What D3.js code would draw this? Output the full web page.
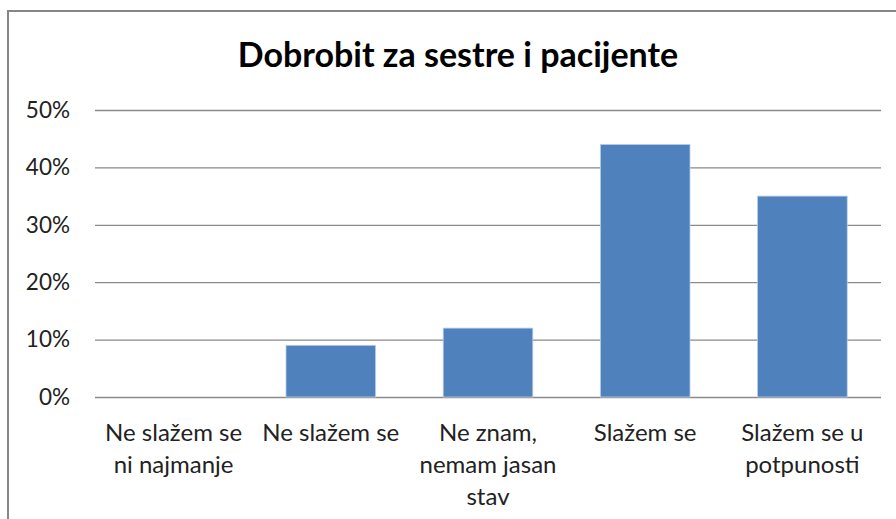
<!DOCTYPE html>
<html>
<head>
<meta charset="utf-8">
<script src="https://cdn.jsdelivr.net/npm/d3@7"></script>
<style>
  body { margin: 0; background: #fff; }
  svg text { font-family: "Lato", "Open Sans", sans-serif; }
</style>
</head>
<body>
<div id="chart"></div>
<script>
// chart data
const title = "Dobrobit za sestre i pacijente";
const categories = ["Ne slažem se ni najmanje", "Ne slažem se", "Ne znam, nemam jasan stav", "Slažem se", "Slažem se u potpunosti"];
const values = [0, 0.09, 0.12, 0.44, 0.35];
const yTicks = [0, 0.1, 0.2, 0.3, 0.4, 0.5];

const width = 896, height = 519;
const plot = { left: 95, right: 881, top: 110, bottom: 397 };

const svg = d3.select("#chart").append("svg")
  .attr("width", width)
  .attr("height", height);

// outer chart frame (runs past the right and bottom edge of the picture)
svg.append("rect")
  .attr("x", 8).attr("y", 11)
  .attr("width", 920).attr("height", 560)
  .attr("fill", "#fff")
  .attr("stroke", "#868686")
  .attr("stroke-width", 2);

// title
svg.append("text")
  .attr("x", 458)
  .attr("y", 67)
  .attr("text-anchor", "middle")
  .style("font-size", "34px")
  .style("font-weight", "700")
  .attr("fill", "#000")
  .text(title);

const x = d3.scaleBand()
  .domain(categories)
  .range([plot.left, plot.right])
  .paddingInner(0.43)
  .paddingOuter(0.215);

const y = d3.scaleLinear()
  .domain([0, 0.5])
  .range([plot.bottom, plot.top]);

// y axis with gridlines
const yAxis = svg.append("g")
  .attr("transform", `translate(${plot.left},0)`)
  .call(d3.axisLeft(y)
    .tickValues(yTicks)
    .tickFormat(d3.format(".0%"))
    .tickSize(-(plot.right - plot.left))
    .tickPadding(25));

yAxis.select(".domain").remove();
yAxis.selectAll(".tick line")
  .attr("stroke", "#8a8a8a")
  .attr("stroke-width", 1.3);
yAxis.selectAll(".tick text")
  .style("font-size", "22.5px")
  .attr("fill", "#222");

// bars
svg.append("g")
  .selectAll("rect")
  .data(values)
  .join("rect")
  .attr("x", (d, i) => x(categories[i]))
  .attr("y", d => y(d))
  .attr("width", x.bandwidth())
  .attr("height", d => y(0) - y(d))
  .attr("fill", "#4f81bd")
  .attr("stroke", "#b9cde5")
  .attr("stroke-width", d => d > 0 ? 0.8 : 0);

// x axis labels
const xAxis = svg.append("g")
  .attr("transform", `translate(0,${plot.bottom})`)
  .call(d3.axisBottom(x).tickSize(0).tickPadding(0));

xAxis.select(".domain").remove();
xAxis.selectAll(".tick text")
  .style("font-size", "24px")
  .attr("fill", "#222")
  .attr("dy", null)
  .call(wrap, 148);

// breaks a label into lines that fit in maxWidth
function wrap(texts, maxWidth) {
  texts.each(function() {
    const text = d3.select(this);
    const words = text.text().split(" ");
    text.text(null);
    let lines = [];
    let line = [];
    const probe = text.append("tspan");
    words.forEach(w => {
      line.push(w);
      probe.text(line.join(" "));
      if (probe.node().getComputedTextLength() > maxWidth && line.length > 1) {
        line.pop();
        lines.push(line.join(" "));
        line = [w];
      }
    });
    lines.push(line.join(" "));
    probe.remove();
    lines.forEach((l, i) => {
      text.append("tspan")
        .attr("x", 0)
        .attr("y", 44 + i * 32)
        .text(l);
    });
  });
}
</script>
</body>
</html>
